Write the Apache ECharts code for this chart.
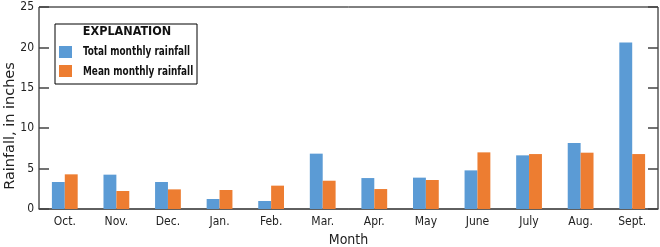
<!DOCTYPE html>
<html>
<head>
<meta charset="utf-8">
<script src="https://cdn.jsdelivr.net/npm/echarts@6/dist/echarts.min.js"></script>
<style>html,body{margin:0;padding:0;background:#fff}#c{width:660px;height:247px}</style>
</head>
<body>
<div id="c"></div>
<script>
const months = ['Oct.','Nov.','Dec.','Jan.','Feb.','Mar.','Apr.','May','June','July','Aug.','Sept.'];
const totalRain = [3.34, 4.25, 3.34, 1.24, 0.99, 6.85, 3.83, 3.88, 4.78, 6.64, 8.17, 20.6];
const meanRain = [4.29, 2.23, 2.43, 2.35, 2.89, 3.50, 2.47, 3.59, 7.01, 6.80, 6.97, 6.80];
const yTicks = [0, 5, 10, 15, 20, 25];
const seriesNames = ['Total monthly rainfall', 'Mean monthly rainfall'];

const FONT = "'DejaVu Sans Condensed', 'Liberation Sans', sans-serif";
const chart = echarts.init(document.getElementById('c'), null, {renderer: 'canvas'});
const tickStyle = {color: '#444', width: 1.5};
chart.setOption({
  animation: false,
  textStyle: {fontFamily: FONT},
  grid: {left: 39, right: 2, top: 7, bottom: 38, show: true, borderColor: '#000', borderWidth: 1,
         containLabel: false, outerBoundsMode: 'none'},
  legend: {
    data: seriesNames,
    orient: 'vertical', left: 59, top: 46, itemWidth: 13, itemHeight: 12, itemGap: 7,
    icon: 'rect', selectedMode: false, padding: 0,
    formatter: () => '',
    textStyle: {fontSize: 12, lineHeight: 12}
  },
  graphic: [
    {type: 'rect', x: 55, y: 24, shape: {width: 142, height: 60}, style: {fill: '#fff', stroke: '#000', lineWidth: 1}, z: -1},
    {type: 'text', x: 127, y: 32, style: {text: 'EXPLANATION', font: 'bold 12.5px ' + FONT, fill: '#111', align: 'center', verticalAlign: 'middle'}, z: 2},
    {type: 'text', x: 83, y: 52, scaleX: 0.76, style: {text: seriesNames[0], font: 'bold 13px ' + FONT, fill: '#111', align: 'left', verticalAlign: 'middle'}, z: 2},
    {type: 'text', x: 83, y: 71.5, scaleX: 0.76, style: {text: seriesNames[1], font: 'bold 13px ' + FONT, fill: '#111', align: 'left', verticalAlign: 'middle'}, z: 2},
    {type: 'text', x: 10, y: 126, rotation: Math.PI / 2, scaleX: 1.15, style: {text: 'Rainfall, in inches', font: '14px ' + FONT, fill: '#222', align: 'center', verticalAlign: 'middle'}, z: 2}
  ],
  xAxis: [{
    type: 'category', data: months, position: 'bottom',
    name: 'Month', nameLocation: 'middle', nameGap: 20,
    nameTextStyle: {fontFamily: FONT, fontSize: 14, color: '#222'},
    axisLine: {lineStyle: {color: '#555', width: 1.5}},
    axisTick: {inside: true, length: 10, interval: 0, lineStyle: tickStyle},
    axisLabel: {fontFamily: FONT, fontSize: 12, color: '#222', margin: 7, interval: 0}
  }, {
    type: 'category', data: months, position: 'top',
    axisLine: {show: false},
    axisTick: {inside: true, length: 10, interval: 0, lineStyle: tickStyle},
    axisLabel: {show: false}
  }],
  yAxis: [{
    type: 'value', min: 0, max: 25, interval: 5, position: 'left',
    axisLine: {show: false}, splitLine: {show: false},
    axisTick: {show: true, inside: true, length: 10, lineStyle: tickStyle},
    axisLabel: {fontFamily: FONT, fontSize: 12, color: '#222', margin: 5,
      formatter: v => yTicks.includes(v) ? String(v) : ''}
  }, {
    type: 'value', min: 0, max: 25, interval: 5, position: 'right',
    axisLine: {show: false}, splitLine: {show: false},
    axisTick: {show: true, inside: true, length: 10, lineStyle: tickStyle},
    axisLabel: {show: false}
  }],
  series: [{
    name: seriesNames[0], type: 'bar', data: totalRain,
    barCategoryGap: '50%', barGap: '0%', itemStyle: {color: '#5b9bd5'}, z: 3
  }, {
    name: seriesNames[1], type: 'bar', data: meanRain,
    barCategoryGap: '50%', barGap: '0%', itemStyle: {color: '#ed7d31'}, z: 3
  }]
});
</script>
</body>
</html>
